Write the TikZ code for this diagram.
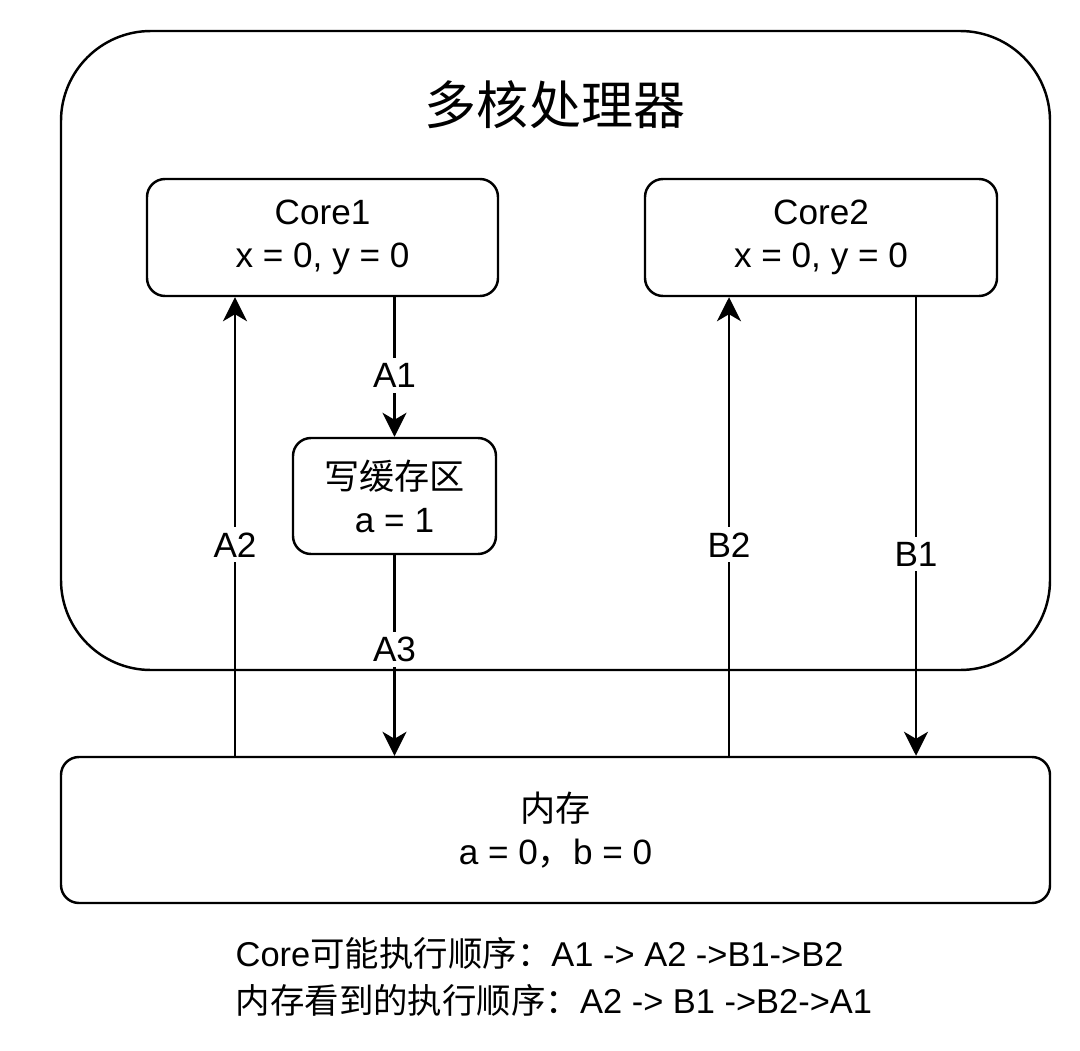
\documentclass[tikz,border=0pt]{standalone}
\usepackage{fontspec}
\setmainfont{Liberation Sans}
\newfontfamily\cjk{Noto Sans CJK SC}
\usetikzlibrary{arrows.meta}

\begin{document}
\begin{tikzpicture}[
    box/.style={draw, line width=0.7pt, rounded corners=0.18cm, align=center, inner sep=0pt, font=\fontsize{10}{12.2}\selectfont},
    arr/.style={line width=0.65pt, -{Stealth[length=0.24cm, width=0.24cm, inset=0.07cm]}},
    lbl/.style={fill=white, inner sep=1.5pt, font=\fontsize{10}{12}\selectfont}
]
    \useasboundingbox (0,0) rectangle (10.8,10.5);
    \node[draw, line width=0.7pt, rounded corners=0.9cm, minimum width=9.89cm, minimum height=6.39cm] (cpu) at (5.555,6.995) {};
    \node[font=\fontsize{14.8}{18}\selectfont\cjk] (title) at (5.55,9.45) {多核处理器};
    \node[box, minimum width=3.51cm, minimum height=1.17cm] (core1) at (3.225,8.125) {Core1\\x = 0, y = 0};
    \node[box, minimum width=3.52cm, minimum height=1.17cm] (core2) at (8.21,8.125) {Core2\\x = 0, y = 0};
    \node[box, minimum width=2.03cm, minimum height=1.16cm] (buf) at (3.945,5.54) {{\cjk 写缓存区}\\a = 1};
    \node[box, minimum width=9.89cm, minimum height=1.46cm] (mem) at (5.555,2.2) {{\cjk 内存}\\a = 0{\cjk ，}b = 0};
    \coordinate (a2x) at (2.35,0);
    \coordinate (b2x) at (7.29,0);
    \coordinate (b1x) at (9.16,0);
    \draw[arr] (core1.south -| buf.north) -- node[lbl, pos=0.56] {A1} (buf.north);
    \draw[arr] (mem.north -| a2x) -- node[lbl, pos=0.46] {A2} (core1.south -| a2x);
    \draw[arr] (buf.south) -- node[lbl, pos=0.47] {A3} (mem.north -| buf.south);
    \draw[arr] (mem.north -| b2x) -- node[lbl, pos=0.46] {B2} (core2.south -| b2x);
    \draw[arr] (core2.south -| b1x) -- node[lbl, pos=0.56] {B1} (mem.north -| b1x);
    \node[anchor=west, align=left, inner sep=0pt, font=\fontsize{9.8}{13.4}\selectfont] (order) at (2.35,0.735)
        {Core{\cjk 可能执行顺序：}A1 -> A2 ->B1->B2\\{\cjk 内存看到的执行顺序：}A2 -> B1 ->B2->A1};
\end{tikzpicture}
\end{document}
